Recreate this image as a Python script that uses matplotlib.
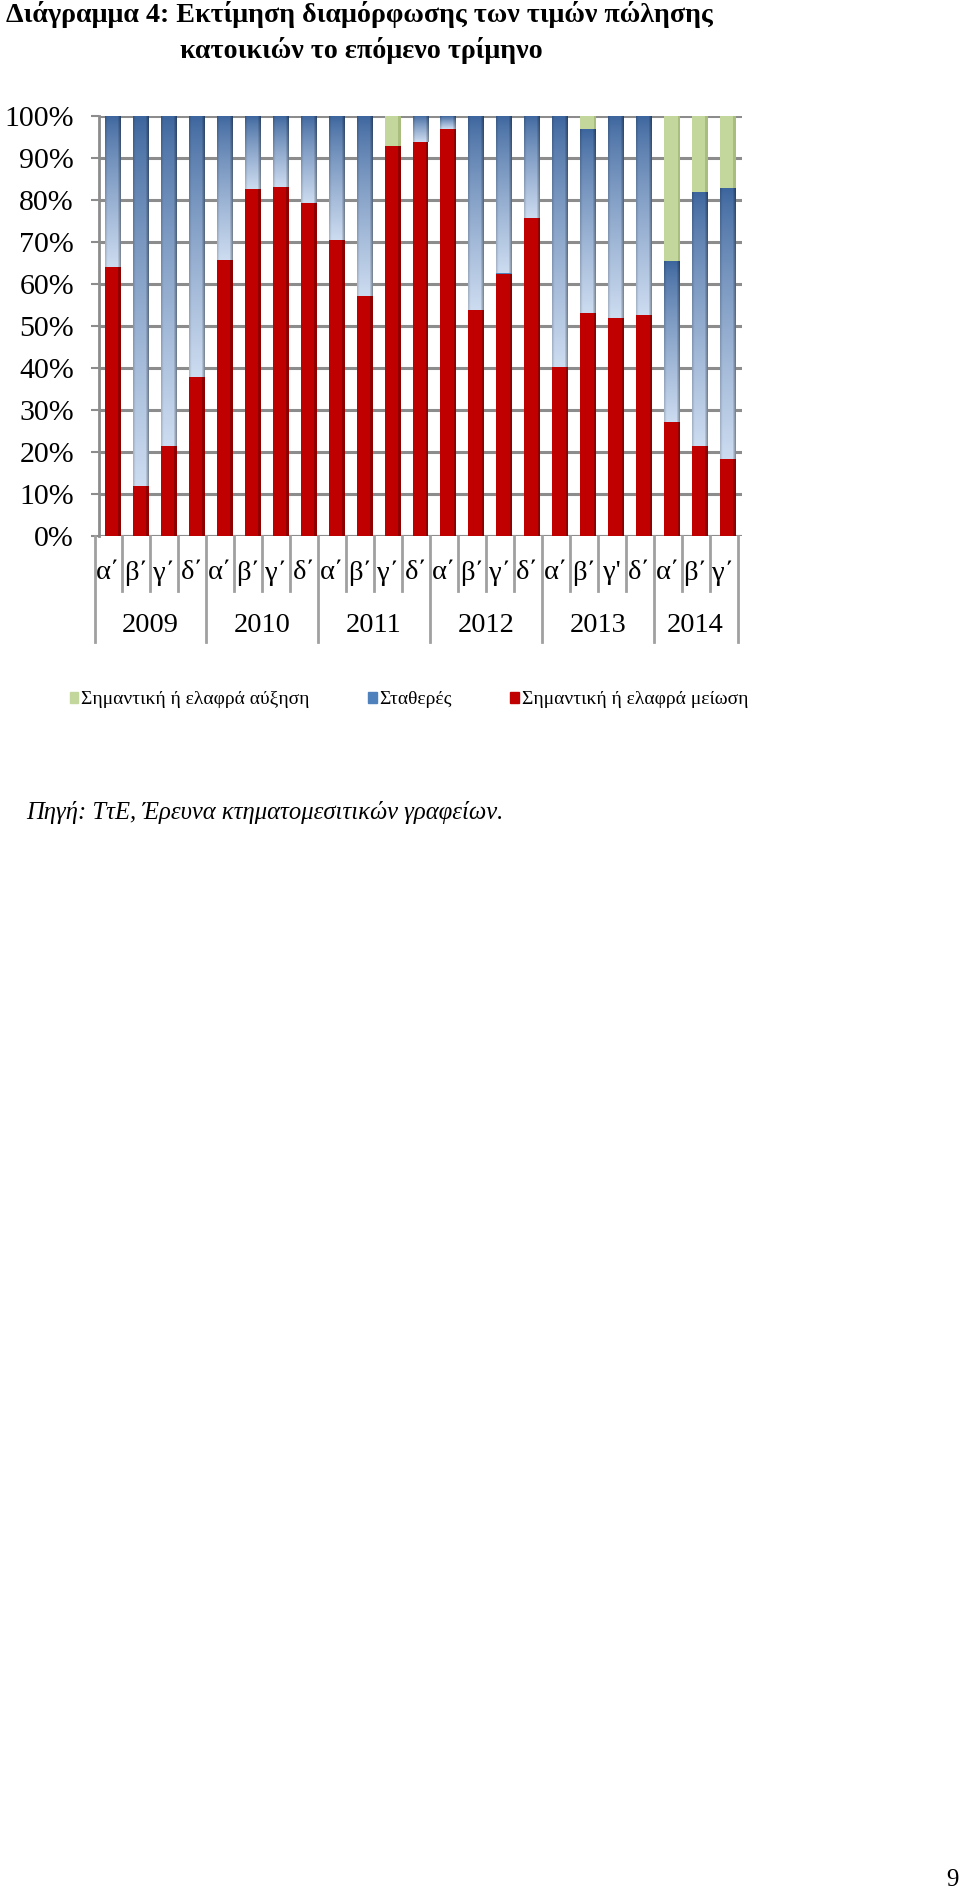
import numpy as np
import matplotlib
matplotlib.use('Agg')
import matplotlib.pyplot as plt
from matplotlib.patches import Patch

# quarters and years
quarters = ['α΄', 'β΄', 'γ΄', 'δ΄',
            'α΄', 'β΄', 'γ΄', 'δ΄',
            'α΄', 'β΄', 'γ΄', 'δ΄',
            'α΄', 'β΄', 'γ΄', 'δ΄',
            'α΄', 'β΄', "γ'", 'δ΄',
            'α΄', 'β΄', 'γ΄']
years = ['2009', '2010', '2011', '2012', '2013', '2014']
year_len = [4, 4, 4, 4, 4, 3]

# shares (%)
decrease = [64.0, 11.9, 21.4, 37.8, 65.6, 82.7, 83.2, 79.2, 70.5, 57.1,
            92.8, 93.8, 97.0, 53.8, 62.5, 75.6, 40.2, 53.2, 51.8, 52.6,
            27.2, 21.4, 18.4]
increase = [0, 0, 0, 0, 0, 0, 0, 0, 0, 0,
            7.2, 0, 0, 0, 0, 0, 0, 3.0, 0, 0,
            34.6, 18.0, 17.2]
stable = [100 - d - u for d, u in zip(decrease, increase)]

RED = '#C00000'
GREEN = '#C3D69B'
BLUE = '#4F81BD'
GRID = '#8C8C8C'

serif = ['Liberation Serif', 'DejaVu Serif']
plt.rcParams['font.family'] = serif

fig = plt.figure(figsize=(9.6, 18.94), dpi=100)
ax = fig.add_axes([99 / 960, 1 - 536 / 1894, 643 / 960, 420 / 1894])

x = np.arange(len(quarters))
w = 0.57
bottom_blue = np.array(decrease)
bottom_green = bottom_blue + np.array(stable)

ax.bar(x, decrease, w, color=RED, zorder=3)
# darker side face
ax.bar(x + w * 0.42, decrease, w * 0.16, color='#8E0000', zorder=3.1)
blue_bars = ax.bar(x, stable, w, bottom=bottom_blue, color=BLUE, zorder=3)
ax.bar(x, increase, w, bottom=bottom_green, color=GREEN, zorder=3)
ax.bar(x + w * 0.42, increase, w * 0.16, bottom=bottom_green, color='#A9BE7E', zorder=3.1)

# gradient fill for the "stable" segments
ny, nx = 64, 16
tv = np.linspace(0, 1, ny)[:, None]
th = np.linspace(0, 1, nx)[None, :]
dark = np.array([0.24, 0.40, 0.62])
light = np.array([0.80, 0.86, 0.94])
shade = 1 - 0.35 * np.clip((th - 0.8) / 0.2, 0, 1) - 0.15 * np.clip((0.15 - th) / 0.15, 0, 1)
for b in blue_bars:
    if b.get_height() <= 0:
        continue
    mix = tv ** 0.8
    img = dark[None, None, :] * (1 - mix[..., None]) + light[None, None, :] * mix[..., None]
    img = img * shade[..., None]
    im = ax.imshow(img, extent=(b.get_x(), b.get_x() + b.get_width(),
                                b.get_y(), b.get_y() + b.get_height()),
                   aspect='auto', origin='upper', zorder=3.05, interpolation='bilinear')
    im.set_clip_path(b)

ax.set_xlim(-0.5, len(quarters) - 0.5)
ax.set_ylim(0, 100)
ax.set_yticks(np.arange(0, 101, 10))
ax.set_yticklabels([f'{v}%' for v in range(0, 101, 10)], fontsize=21.5)
ax.set_xticks([])
ax.yaxis.grid(True, color=GRID, linewidth=2.2, zorder=0)
ax.set_axisbelow(True)
for s in ['top', 'right', 'bottom']:
    ax.spines[s].set_visible(False)
ax.spines['left'].set_color(GRID)
ax.spines['left'].set_linewidth(2)
ax.tick_params(axis='y', colors=GRID, length=6, width=1.5, pad=12, labelcolor='black')

# category table under the plot (slightly shifted left, like the 3D floor)
tr = ax.get_xaxis_transform()
off = -0.16
ax.axhline(0, color=GRID, linewidth=2.2, zorder=2)
ends = np.cumsum(year_len)
starts = ends - np.array(year_len)
year_edges = set(list(starts) + [ends[-1]])
for k in range(len(quarters) + 1):
    y_end = -0.252 if k in year_edges else -0.131
    ax.plot([k - 0.5 + off, k - 0.5 + off], [0, y_end], transform=tr, color='#A0A0A0',
            linewidth=2, clip_on=False)
for i, q in enumerate(quarters):
    ax.text(i + off, -0.088, q, transform=tr, ha='center', va='center', fontsize=20.5)
for yr, s0, e0 in zip(years, starts, ends):
    ax.text((s0 + e0 - 1) / 2 + off, -0.214, yr, transform=tr, ha='center', va='center',
            fontsize=20.5)

# legend
handles = [Patch(color=GREEN, label='Σημαντική ή ελαφρά αύξηση'),
           Patch(color=BLUE, label='Σταθερές'),
           Patch(color=RED, label='Σημαντική ή ελαφρά μείωση')]
fig.legend(handles=handles, loc='center left', bbox_to_anchor=(52 / 960, 1 - 700 / 1894),
           ncol=3, frameon=False, handlelength=0.45, handleheight=0.45,
           handletextpad=0.15, columnspacing=3.0,
           prop={'family': serif, 'size': 14})

# titles and notes
fig.text(6 / 960, 1 - 15 / 1894, 'Διάγραμμα 4: Εκτίμηση διαμόρφωσης των τιμών πώλησης',
         fontsize=20.2, fontweight='bold', ha='left', va='center')
fig.text(180 / 960, 1 - 51 / 1894, 'κατοικιών το επόμενο τρίμηνο',
         fontsize=20.2, fontweight='bold', ha='left', va='center')
fig.text(26 / 960, 1 - 812 / 1894, 'Πηγή: ΤτΕ, Έρευνα κτηματομεσιτικών γραφείων.',
         fontsize=17.7, fontstyle='italic', ha='left', va='center')
fig.text(952 / 960, 1 - 1880 / 1894, '9', fontsize=18, ha='center', va='center')

fig.savefig('out.png', dpi=100)
